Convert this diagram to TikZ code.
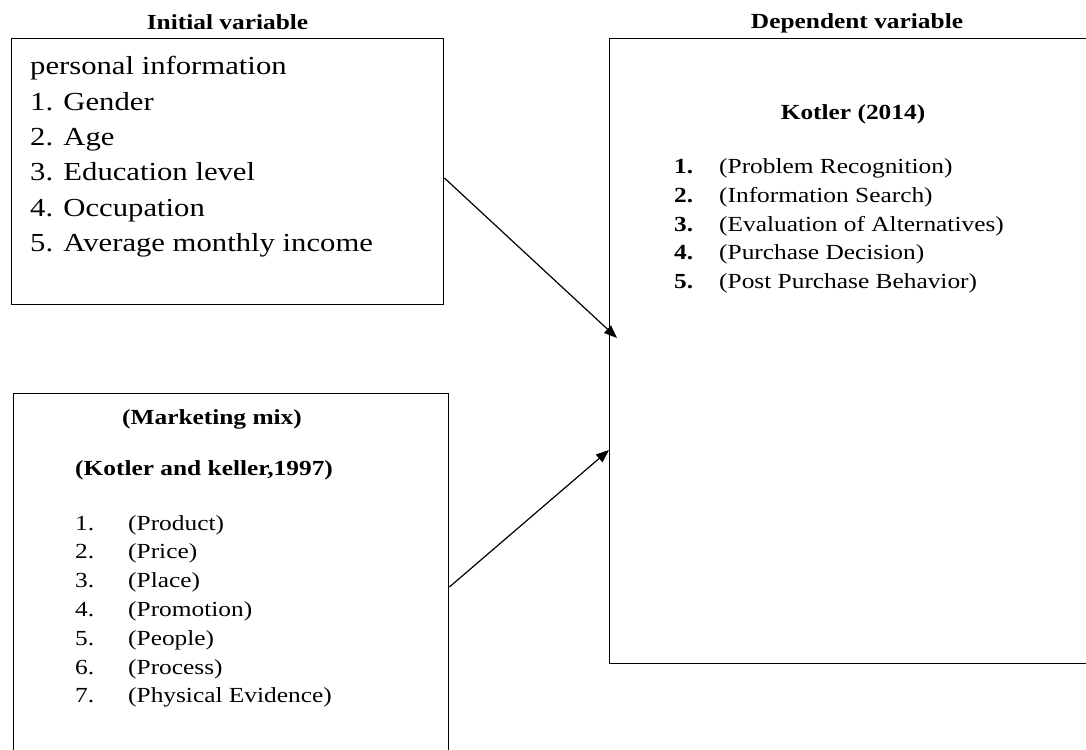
\documentclass[tikz,border=0pt]{standalone}
\usepackage{fontspec}
\setmainfont{Liberation Serif}[FakeStretch=1.18]
\usetikzlibrary{arrows.meta}
\tikzset{
  box/.style={draw=black, line width=1.4pt, rectangle, inner sep=0pt},
  conn/.style={draw=black, line width=1.2pt, -{Triangle[length=13pt,width=10pt]}},
  big/.style={font=\fontsize{26}{30}\selectfont, inner sep=0pt},
  txt/.style={font=\fontsize{21.5}{25}\selectfont, inner sep=0pt},
  hdr/.style={font=\fontsize{21.5}{25}\selectfont\bfseries, inner sep=0pt},
}
\begin{document}
\begin{tikzpicture}[x=1pt,y=-1pt]
\useasboundingbox (0,0) rectangle (1086,749);
\clip (0,0) rectangle (1086,749);
\fill[white] (0,0) rectangle (1086,749);
% boxes
\node[box, minimum width=432pt, minimum height=266pt, anchor=north west] (box1) at (11,38) {};
\node[box, minimum width=435pt, minimum height=380pt, anchor=north west] (box2) at (13,393) {};
\node[box, minimum width=500pt, minimum height=625pt, anchor=north west] (box3) at (609,38) {};
% titles
\node[hdr, anchor=base] (t1) at (227.5,29.5) {Initial variable};
\node[hdr, anchor=base] (t2) at (857,29) {Dependent variable};
% box1 text
\foreach \t [count=\i] in {personal information, 1. Gender, 2. Age, 3. Education level, 4. Occupation, 5. Average monthly income}
  \node[big, anchor=base west] (p\i) at (30,{75+35.3*(\i-1)}) {\t};
% box2 text
\node[hdr, anchor=base] (mm) at (212,424) {(Marketing mix)};
\node[hdr, anchor=base west] (kk) at (75,475) {(Kotler and keller,1997)};
\foreach \t [count=\i] in {(Product), (Price), (Place), (Promotion), (People), (Process), (Physical Evidence)}{
  \node[txt, anchor=base west] (mn\i) at (75,{530+28.8*(\i-1)}) {\i.};
  \node[txt, anchor=base west] (mi\i) at (128,{530+28.8*(\i-1)}) {\t};
}
% box3 text
\node[hdr, anchor=base] (k14) at (853,120) {Kotler (2014)};
\foreach \t [count=\i] in {(Problem Recognition), (Information Search), (Evaluation of Alternatives), (Purchase Decision), (Post Purchase Behavior)}{
  \node[hdr, anchor=base west] (dn\i) at (674,{173.5+28.8*(\i-1)}) {\i.};
  \node[txt, anchor=base west] (di\i) at (719,{173.5+28.8*(\i-1)}) {\t};
}
% connectors
\draw[conn] (box1.east |- 0,178) -- ([xshift=8pt]box3.west |- 0,338);
\draw[conn] (box2.east |- 0,587) -- (box3.west |- 0,450);
\end{tikzpicture}
\end{document}
